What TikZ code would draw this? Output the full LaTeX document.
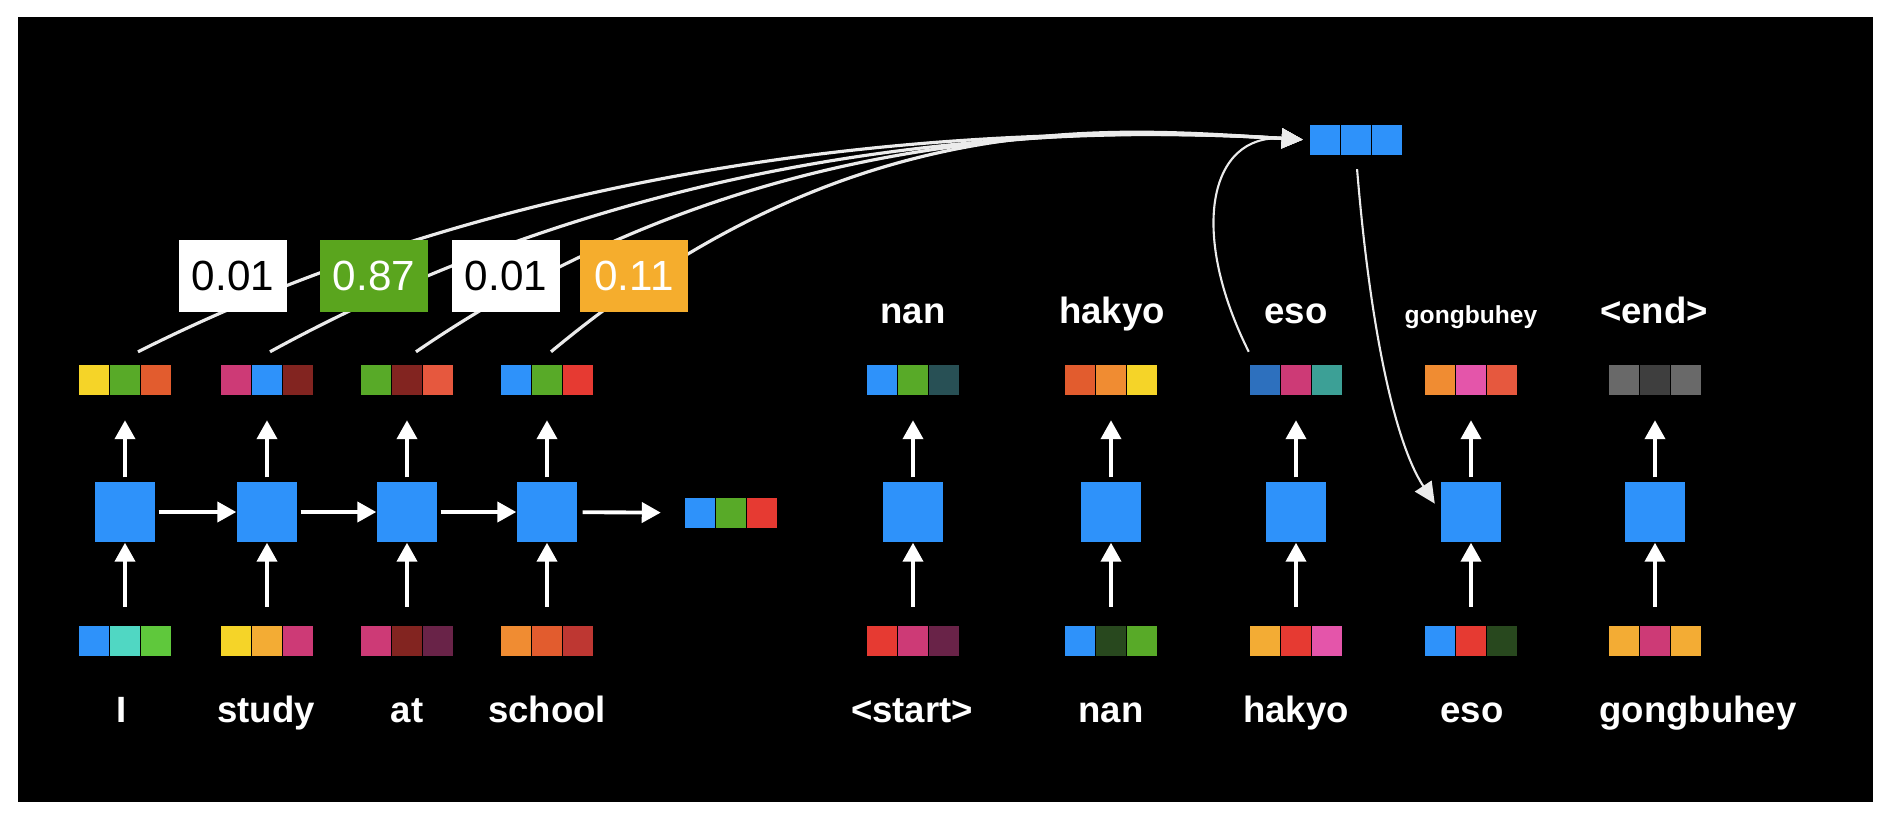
\documentclass[tikz,border=0pt]{standalone}
\usepackage{fontspec}
\setmainfont{Liberation Sans}
\usetikzlibrary{arrows.meta}

\definecolor{cblue}{RGB}{46,146,250}
\definecolor{cgreen}{RGB}{88,170,40}
\definecolor{cyellow}{RGB}{245,212,40}
\definecolor{corange}{RGB}{240,140,50}
\definecolor{cred}{RGB}{230,58,50}
\definecolor{cpink}{RGB}{205,58,118}
\definecolor{cdarkred}{RGB}{130,36,32}
\definecolor{ctomato}{RGB}{230,88,62}
\definecolor{cturq}{RGB}{80,215,195}
\definecolor{clime}{RGB}{95,200,60}
\definecolor{camber}{RGB}{243,172,52}
\definecolor{cplum}{RGB}{105,35,72}
\definecolor{cburnt}{RGB}{226,92,46}
\definecolor{cbrick}{RGB}{190,55,50}
\definecolor{cteal}{RGB}{40,80,85}
\definecolor{cmidblue}{RGB}{45,112,190}
\definecolor{cseagreen}{RGB}{60,160,150}
\definecolor{chotpink}{RGB}{228,85,170}
\definecolor{cdkgreen}{RGB}{40,72,30}
\definecolor{cgray}{RGB}{105,105,105}
\definecolor{cdkgray}{RGB}{62,62,62}
\definecolor{wgreen}{RGB}{90,165,30}
\definecolor{worange}{RGB}{245,173,45}

\begin{document}
\begin{tikzpicture}[
        x=0.01cm, y=-0.01cm,
        rnn/.style={fill=cblue, minimum width=0.6cm, minimum height=0.6cm, inner sep=0pt},
        vec/.style n args={3}{minimum width=0.93cm, minimum height=0.31cm, inner sep=0pt,
            draw=black, line width=0.4pt,
            path picture={
                \fill[#1] (path picture bounding box.south west) rectangle ++(0.31cm,0.31cm);
                \fill[#2] ([xshift=0.31cm]path picture bounding box.south west) rectangle ++(0.31cm,0.31cm);
                \fill[#3] ([xshift=0.62cm]path picture bounding box.south west) rectangle ++(0.31cm,0.31cm);
                \draw[black] ([xshift=0.31cm]path picture bounding box.south west) -- ++(0,0.31cm);
                \draw[black] ([xshift=0.62cm]path picture bounding box.south west) -- ++(0,0.31cm);
            }},
        word/.style={text=white, font=\bfseries\fontsize{10.4}{12}\selectfont, anchor=base, inner sep=0pt},
        weight/.style={minimum width=1.07cm, minimum height=0.71cm, inner sep=0pt, font=\fontsize{12}{14}\selectfont},
        flow/.style={draw=white, line width=1.1pt, -{Triangle[length=5.4pt,width=5.7pt]}},
        attn/.style={draw=white!92!black, line width=0.9pt, -{Triangle[length=6pt,width=5.6pt]}, shorten >=0.06cm}
    ]
    \useasboundingbox (0,0) rectangle (1890,818);
    \fill[white] (0,0) rectangle (1890,818);
    \fill[black] (18,17) rectangle (1873,802);

    \node[rnn] (eb1) at (125,512) {};
    \node[rnn] (eb2) at (267,512) {};
    \node[rnn] (eb3) at (407,512) {};
    \node[rnn] (eb4) at (547,512) {};
    \node[vec={cblue}{cturq}{clime}] (ei1) at (125,641) {};
    \node[vec={cyellow}{camber}{cpink}] (ei2) at (267,641) {};
    \node[vec={cpink}{cdarkred}{cplum}] (ei3) at (407,641) {};
    \node[vec={corange}{cburnt}{cbrick}] (ei4) at (547,641) {};
    \node[vec={cyellow}{cgreen}{cburnt}] (eo1) at (125,380) {};
    \node[vec={cpink}{cblue}{cdarkred}] (eo2) at (267,380) {};
    \node[vec={cgreen}{cdarkred}{ctomato}] (eo3) at (407,380) {};
    \node[vec={cblue}{cgreen}{cred}] (eo4) at (547,380) {};
    \node[vec={cblue}{cgreen}{cred}] (enc) at (731,513) {};
    \node[word] (ew1) at (122,722) {I};
    \node[word] (ew2) at (266,722) {study};
    \node[word] (ew3) at (407,722) {at};
    \node[word] (ew4) at (547,722) {school};

    \draw[flow, shorten <=0.18cm] (ei1) -- (eb1);
    \draw[flow, shorten <=0.18cm] (ei2) -- (eb2);
    \draw[flow, shorten <=0.18cm] (ei3) -- (eb3);
    \draw[flow, shorten <=0.18cm] (ei4) -- (eb4);
    \draw[flow, shorten <=0.04cm, shorten >=0.24cm] (eb1) -- (eo1);
    \draw[flow, shorten <=0.04cm, shorten >=0.24cm] (eb2) -- (eo2);
    \draw[flow, shorten <=0.04cm, shorten >=0.24cm] (eb3) -- (eo3);
    \draw[flow, shorten <=0.04cm, shorten >=0.24cm] (eb4) -- (eo4);
    \draw[flow, shorten <=0.03cm] (eb1) -- (eb2);
    \draw[flow, shorten <=0.03cm] (eb2) -- (eb3);
    \draw[flow, shorten <=0.03cm] (eb3) -- (eb4);
    \draw[flow, shorten <=0.05cm, shorten >=0.23cm] (eb4) -- (enc);

    \node[rnn] (db1) at (913,512) {};
    \node[rnn] (db2) at (1111,512) {};
    \node[rnn] (db3) at (1296,512) {};
    \node[rnn] (db4) at (1471,512) {};
    \node[rnn] (db5) at (1655,512) {};
    \node[vec={cred}{cpink}{cplum}] (di1) at (913,641) {};
    \node[vec={cblue}{cdkgreen}{cgreen}] (di2) at (1111,641) {};
    \node[vec={camber}{cred}{chotpink}] (di3) at (1296,641) {};
    \node[vec={cblue}{cred}{cdkgreen}] (di4) at (1471,641) {};
    \node[vec={camber}{cpink}{camber}] (di5) at (1655,641) {};
    \node[vec={cblue}{cgreen}{cteal}] (do1) at (913,380) {};
    \node[vec={cburnt}{corange}{cyellow}] (do2) at (1111,380) {};
    \node[vec={cmidblue}{cpink}{cseagreen}] (do3) at (1296,380) {};
    \node[vec={corange}{chotpink}{ctomato}] (do4) at (1471,380) {};
    \node[vec={cgray}{cdkgray}{cgray}] (do5) at (1655,380) {};
    \node[word] (dw1) at (912,722) {<start>};
    \node[word] (dw2) at (1111,722) {nan};
    \node[word] (dw3) at (1296,722) {hakyo};
    \node[word] (dw4) at (1472,722) {eso};
    \node[word] (dw5) at (1698,722) {gongbuhey};
    \node[word] (dt1) at (913,323) {nan};
    \node[word] (dt2) at (1112,323) {hakyo};
    \node[word] (dt3) at (1296,323) {eso};
    \node[word, font=\bfseries\fontsize{7}{8}\selectfont] (dt4) at (1471,323) {gongbuhey};
    \node[word] (dt5) at (1654,323) {<end>};

    \draw[flow, shorten <=0.18cm] (di1) -- (db1);
    \draw[flow, shorten <=0.18cm] (di2) -- (db2);
    \draw[flow, shorten <=0.18cm] (di3) -- (db3);
    \draw[flow, shorten <=0.18cm] (di4) -- (db4);
    \draw[flow, shorten <=0.18cm] (di5) -- (db5);
    \draw[flow, shorten <=0.04cm, shorten >=0.24cm] (db1) -- (do1);
    \draw[flow, shorten <=0.04cm, shorten >=0.24cm] (db2) -- (do2);
    \draw[flow, shorten <=0.04cm, shorten >=0.24cm] (db3) -- (do3);
    \draw[flow, shorten <=0.04cm, shorten >=0.24cm] (db4) -- (do4);
    \draw[flow, shorten <=0.04cm, shorten >=0.24cm] (db5) -- (do5);

    \node[vec={cblue}{cblue}{cblue}] (ctx) at (1356,140) {};
    \draw[attn] ([xshift=0.13cm,yshift=0.12cm]eo1.north) .. controls +(462,-232) and +(-200,-12) .. (ctx.west);
    \draw[attn] ([xshift=0.03cm,yshift=0.12cm]eo2.north) .. controls +(420,-230) and +(-200,-12) .. (ctx.west);
    \draw[attn] ([xshift=0.09cm,yshift=0.12cm]eo3.north) .. controls +(344,-236) and +(-200,-12) .. (ctx.west);
    \draw[attn] ([xshift=0.04cm,yshift=0.12cm]eo4.north) .. controls +(300,-250) and +(-200,-12) .. (ctx.west);
    \draw[attn, line width=0.6pt] ([yshift=0.12cm]do3.north west) .. controls +(-60,-120) and +(-100,-6) .. (ctx.west);
    \draw[attn, line width=0.6pt, shorten <=0.13cm, shorten >=0.1cm] (ctx.south) .. controls +(14,170) and +(-46,-70) .. (db4.west);

    \node[weight, fill=white] (w1) at (233,276) {0.01};
    \node[weight, fill=wgreen, text=white] (w2) at (374,276) {0.87};
    \node[weight, fill=white] (w3) at (506,276) {0.01};
    \node[weight, fill=worange, text=white] (w4) at (634,276) {0.11};
\end{tikzpicture}
\end{document}
